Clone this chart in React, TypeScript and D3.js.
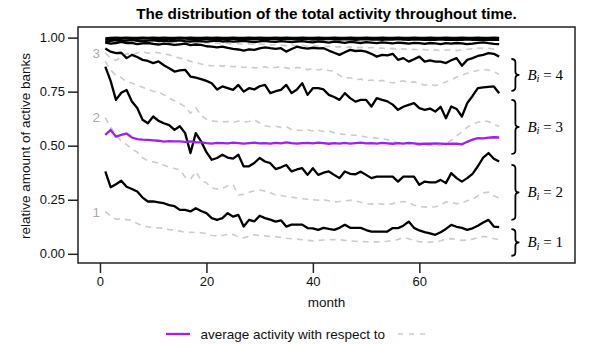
import { useRef, useEffect } from 'react';
import * as d3 from 'd3';

// months 1..75 on the x axis
const months = d3.range(1, 76);

const xTicks = [0, 20, 40, 60];
const yTicks = [0, 0.25, 0.5, 0.75, 1];

// black lines (solid)
const k1 = [0.996, 0.999, 1.0, 0.999, 1.0, 0.999, 0.999, 1.0, 0.999, 1.0,
  0.999, 1.0, 0.999, 0.999, 1.0, 0.999, 1.0, 0.999, 0.999, 1.0,
  0.999, 1.0, 0.999, 0.999, 1.0, 0.999, 0.999, 1.0, 0.999, 1.0,
  0.999, 0.999, 1.0, 0.999, 1.0, 0.999, 0.999, 1.0, 0.999, 0.999,
  1.0, 0.999, 0.999, 1.0, 0.999, 0.999, 1.0, 0.999, 0.999, 1.0,
  0.999, 0.999, 1.0, 0.999, 0.999, 1.0, 0.999, 0.999, 1.0, 0.999,
  0.999, 1.0, 0.999, 0.999, 1.0, 0.999, 0.999, 1.0, 0.999, 0.999,
  1.0, 0.999, 0.999, 1.0, 0.999];
const k2 = [0.988, 0.993, 0.995, 0.994, 0.996, 0.995, 0.994, 0.995, 0.996, 0.994,
  0.995, 0.993, 0.995, 0.994, 0.996, 0.995, 0.993, 0.994, 0.995, 0.994,
  0.993, 0.995, 0.994, 0.992, 0.994, 0.995, 0.993, 0.994, 0.992, 0.994,
  0.993, 0.995, 0.993, 0.992, 0.994, 0.993, 0.992, 0.994, 0.993, 0.991,
  0.993, 0.992, 0.994, 0.992, 0.991, 0.993, 0.992, 0.990, 0.992, 0.993,
  0.991, 0.992, 0.990, 0.992, 0.991, 0.993, 0.991, 0.990, 0.992, 0.991,
  0.989, 0.991, 0.990, 0.992, 0.990, 0.989, 0.991, 0.990, 0.992, 0.990,
  0.989, 0.991, 0.990, 0.989, 0.990];
const k3 = [0.978, 0.985, 0.988, 0.984, 0.986, 0.989, 0.985, 0.983, 0.986, 0.988,
  0.984, 0.986, 0.983, 0.985, 0.987, 0.984, 0.982, 0.985, 0.983, 0.981,
  0.984, 0.986, 0.982, 0.984, 0.981, 0.983, 0.985, 0.982, 0.979, 0.983,
  0.985, 0.982, 0.980, 0.984, 0.981, 0.979, 0.982, 0.984, 0.980, 0.978,
  0.982, 0.980, 0.977, 0.981, 0.979, 0.976, 0.980, 0.978, 0.975, 0.979,
  0.977, 0.974, 0.978, 0.976, 0.973, 0.977, 0.975, 0.972, 0.976, 0.974,
  0.971, 0.975, 0.973, 0.970, 0.974, 0.972, 0.975, 0.973, 0.970, 0.972,
  0.976, 0.978, 0.974, 0.971, 0.970];
const lineA = [0.977, 0.972, 0.975, 0.980, 0.974, 0.976, 0.970, 0.973, 0.975, 0.971,
  0.968, 0.972, 0.970, 0.966, 0.969, 0.972, 0.965, 0.968, 0.966, 0.960,
  0.958, 0.955, 0.958, 0.952, 0.948, 0.945, 0.940, 0.946, 0.943, 0.950,
  0.955, 0.951, 0.948, 0.951, 0.935, 0.947, 0.958, 0.952, 0.949, 0.953,
  0.950, 0.951, 0.940, 0.930, 0.920, 0.932, 0.943, 0.938, 0.940, 0.935,
  0.925, 0.912, 0.920, 0.918, 0.925, 0.897, 0.905, 0.889, 0.900, 0.912,
  0.889, 0.895, 0.889, 0.889, 0.882, 0.895, 0.905, 0.870, 0.897, 0.905,
  0.915, 0.920, 0.928, 0.925, 0.912];
const lineB = [0.950, 0.935, 0.928, 0.930, 0.905, 0.920, 0.910, 0.897, 0.892, 0.882,
  0.890, 0.872, 0.858, 0.843, 0.848, 0.851, 0.820, 0.815, 0.808, 0.800,
  0.789, 0.760, 0.774, 0.766, 0.758, 0.781, 0.750, 0.766, 0.760, 0.775,
  0.781, 0.743, 0.752, 0.758, 0.781, 0.743, 0.760, 0.789, 0.735, 0.766,
  0.766, 0.760, 0.735, 0.725, 0.712, 0.743, 0.720, 0.704, 0.712, 0.712,
  0.681, 0.720, 0.712, 0.705, 0.690, 0.666, 0.680, 0.689, 0.697, 0.674,
  0.666, 0.672, 0.658, 0.680, 0.627, 0.681, 0.670, 0.635, 0.697, 0.730,
  0.766, 0.770, 0.772, 0.774, 0.743];
const lineC = [0.866, 0.800, 0.712, 0.745, 0.758, 0.704, 0.674, 0.620, 0.604, 0.635,
  0.615, 0.604, 0.595, 0.573, 0.590, 0.558, 0.466, 0.558, 0.520, 0.470,
  0.435, 0.443, 0.458, 0.445, 0.440, 0.458, 0.404, 0.405, 0.420, 0.443,
  0.427, 0.419, 0.392, 0.400, 0.411, 0.381, 0.390, 0.396, 0.365, 0.396,
  0.365, 0.375, 0.381, 0.365, 0.350, 0.381, 0.370, 0.368, 0.380, 0.365,
  0.350, 0.357, 0.357, 0.357, 0.357, 0.334, 0.357, 0.357, 0.357, 0.319,
  0.334, 0.330, 0.330, 0.342, 0.327, 0.373, 0.350, 0.334, 0.350, 0.370,
  0.405, 0.445, 0.466, 0.440, 0.427];
const lineD = [0.381, 0.308, 0.322, 0.338, 0.310, 0.300, 0.288, 0.260, 0.242, 0.242,
  0.238, 0.234, 0.225, 0.220, 0.203, 0.203, 0.196, 0.211, 0.198, 0.188,
  0.165, 0.157, 0.165, 0.188, 0.172, 0.180, 0.126, 0.157, 0.150, 0.176,
  0.165, 0.158, 0.149, 0.155, 0.126, 0.135, 0.135, 0.135, 0.119, 0.118,
  0.111, 0.120, 0.115, 0.111, 0.120, 0.134, 0.120, 0.120, 0.120, 0.110,
  0.103, 0.103, 0.103, 0.103, 0.119, 0.119, 0.130, 0.149, 0.120, 0.108,
  0.100, 0.095, 0.088, 0.100, 0.115, 0.134, 0.125, 0.120, 0.111, 0.118,
  0.130, 0.145, 0.157, 0.126, 0.123];

// average activity (purple)
const average = [0.550, 0.573, 0.542, 0.550, 0.556, 0.538, 0.530, 0.528, 0.527, 0.525,
  0.523, 0.519, 0.521, 0.520, 0.520, 0.518, 0.520, 0.516, 0.515, 0.512,
  0.510, 0.513, 0.512, 0.511, 0.514, 0.512, 0.510, 0.512, 0.514, 0.511,
  0.512, 0.510, 0.513, 0.511, 0.515, 0.512, 0.510, 0.512, 0.513, 0.511,
  0.514, 0.512, 0.509, 0.512, 0.510, 0.513, 0.510, 0.512, 0.514, 0.511,
  0.512, 0.510, 0.513, 0.511, 0.509, 0.512, 0.510, 0.513, 0.511, 0.508,
  0.510, 0.509, 0.511, 0.510, 0.508, 0.510, 0.509, 0.506, 0.518, 0.528,
  0.535, 0.534, 0.537, 0.539, 0.538];

// grey dashed lines
const g4 = [0.988, 0.985, 0.983, 0.986, 0.984, 0.982, 0.985, 0.983, 0.981, 0.982,
  0.980, 0.982, 0.979, 0.980, 0.978, 0.979, 0.976, 0.978, 0.975, 0.976,
  0.974, 0.975, 0.972, 0.973, 0.970, 0.972, 0.969, 0.971, 0.968, 0.970,
  0.968, 0.966, 0.968, 0.965, 0.963, 0.966, 0.962, 0.964, 0.960, 0.962,
  0.960, 0.958, 0.960, 0.956, 0.958, 0.955, 0.957, 0.953, 0.955, 0.952,
  0.954, 0.950, 0.952, 0.948, 0.950, 0.946, 0.948, 0.944, 0.946, 0.943,
  0.945, 0.941, 0.943, 0.940, 0.942, 0.944, 0.940, 0.943, 0.946, 0.948,
  0.950, 0.952, 0.950, 0.948, 0.946];
const g3 = [0.929, 0.905, 0.895, 0.910, 0.925, 0.920, 0.930, 0.935, 0.928, 0.932,
  0.930, 0.925, 0.920, 0.912, 0.905, 0.900, 0.890, 0.885, 0.878, 0.872,
  0.870, 0.872, 0.868, 0.870, 0.865, 0.868, 0.862, 0.866, 0.860, 0.862,
  0.865, 0.858, 0.862, 0.866, 0.860, 0.855, 0.862, 0.858, 0.852, 0.856,
  0.850, 0.855, 0.848, 0.845, 0.825, 0.812, 0.815, 0.805, 0.808, 0.800,
  0.804, 0.798, 0.802, 0.795, 0.790, 0.796, 0.800, 0.792, 0.795, 0.788,
  0.780, 0.784, 0.778, 0.786, 0.795, 0.805, 0.818, 0.826, 0.835, 0.842,
  0.848, 0.852, 0.850, 0.842, 0.830];
const gBC = [0.890, 0.850, 0.825, 0.815, 0.795, 0.790, 0.780, 0.770, 0.760, 0.752,
  0.748, 0.735, 0.720, 0.708, 0.695, 0.680, 0.650, 0.675, 0.640, 0.622,
  0.615, 0.612, 0.610, 0.612, 0.608, 0.614, 0.610, 0.612, 0.620, 0.605,
  0.592, 0.588, 0.590, 0.585, 0.588, 0.575, 0.572, 0.570, 0.574, 0.568,
  0.572, 0.566, 0.568, 0.560, 0.555, 0.552, 0.550, 0.548, 0.545, 0.540,
  0.538, 0.535, 0.532, 0.528, 0.520, 0.512, 0.515, 0.508, 0.505, 0.502,
  0.500, 0.504, 0.500, 0.502, 0.510, 0.525, 0.545, 0.565, 0.585, 0.600,
  0.608, 0.615, 0.612, 0.598, 0.590];
const g2 = [0.630, 0.585, 0.550, 0.520, 0.505, 0.485, 0.470, 0.445, 0.430, 0.425,
  0.420, 0.410, 0.400, 0.395, 0.388, 0.355, 0.345, 0.380, 0.340, 0.328,
  0.305, 0.300, 0.302, 0.315, 0.320, 0.272, 0.275, 0.285, 0.292, 0.295,
  0.290, 0.282, 0.272, 0.270, 0.265, 0.262, 0.258, 0.255, 0.252, 0.250,
  0.248, 0.250, 0.245, 0.240, 0.242, 0.245, 0.248, 0.245, 0.238, 0.232,
  0.230, 0.232, 0.230, 0.228, 0.232, 0.238, 0.242, 0.238, 0.225, 0.218,
  0.217, 0.215, 0.218, 0.225, 0.240, 0.238, 0.232, 0.235, 0.245, 0.252,
  0.268, 0.282, 0.285, 0.268, 0.258];
const g1 = [0.195, 0.175, 0.160, 0.162, 0.158, 0.155, 0.140, 0.130, 0.125, 0.120,
  0.120, 0.118, 0.112, 0.110, 0.105, 0.100, 0.100, 0.098, 0.097, 0.095,
  0.085, 0.083, 0.085, 0.090, 0.090, 0.078, 0.074, 0.082, 0.088, 0.085,
  0.083, 0.080, 0.079, 0.076, 0.072, 0.070, 0.068, 0.065, 0.062, 0.060,
  0.062, 0.064, 0.065, 0.066, 0.065, 0.062, 0.060, 0.058, 0.057, 0.056,
  0.055, 0.055, 0.056, 0.058, 0.062, 0.066, 0.076, 0.070, 0.062, 0.056,
  0.055, 0.054, 0.055, 0.060, 0.068, 0.070, 0.066, 0.062, 0.064, 0.068,
  0.075, 0.080, 0.078, 0.070, 0.065];

const blackSeries = [k1, k2, k3, lineA, lineB, lineC, lineD];
const greySeries = [g4, g3, gBC, g2, g1];
const greyLabels = [
  { text: '3', series: g3 },
  { text: '2', series: g2 },
  { text: '1', series: g1 },
];

// braces on the right: group value and its y range
const braceGroups = ['4', '3', '2', '1'];
const braceTop = [0.901, 0.712, 0.411, 0.114];
const braceBottom = [0.754, 0.462, 0.157, -0.009];

const W = 591;
const H = 345;
const FONT = '"Liberation Sans", Arial, Helvetica, sans-serif';

export default function App() {
  const svgRef = useRef<SVGSVGElement>(null);

  useEffect(() => {
    const svg = d3.select(svgRef.current);
    svg.selectAll('*').remove();

    const x = d3.scaleLinear().domain([-4.13, 89.25]).range([78, 575]);
    const y = d3.scaleLinear().domain([-0.0425, 1.049]).range([263, 27]);

    const line = d3.line<number>()
      .x((d, i) => x(months[i]))
      .y(d => y(d));

    // grey dashed lines
    svg.append('g')
      .selectAll('path')
      .data(greySeries)
      .join('path')
      .attr('d', d => line(d))
      .attr('fill', 'none')
      .attr('stroke', '#cccccc')
      .attr('stroke-width', 1.6)
      .attr('stroke-dasharray', '6,5');

    // black lines
    svg.append('g')
      .selectAll('path')
      .data(blackSeries)
      .join('path')
      .attr('d', d => line(d))
      .attr('fill', 'none')
      .attr('stroke', '#000')
      .attr('stroke-width', 2.3)
      .attr('stroke-linejoin', 'round');

    // average
    svg.append('path')
      .attr('d', line(average))
      .attr('fill', 'none')
      .attr('stroke', '#a020f0')
      .attr('stroke-width', 2.3);

    // grey group labels at line starts
    svg.append('g')
      .selectAll('text')
      .data(greyLabels)
      .join('text')
      .attr('x', x(-0.7))
      .attr('y', d => y(d.series[0]))
      .attr('dy', '0.36em')
      .attr('text-anchor', 'middle')
      .attr('font-family', FONT)
      .attr('font-size', 13.5)
      .attr('fill', '#aaaaaa')
      .text(d => d.text);

    // braces
    const bx = x(77.3);
    const bw = 8;
    braceGroups.forEach((g, i) => {
      const y1 = y(braceTop[i]);
      const y2 = y(braceBottom[i]);
      const ym = (y1 + y2) / 2;
      const r = 3.5;
      const s = bx + bw / 2;
      const p = d3.path();
      p.moveTo(bx, y1);
      p.quadraticCurveTo(s, y1, s, y1 + r);
      p.lineTo(s, ym - r);
      p.quadraticCurveTo(s, ym, bx + bw, ym);
      p.quadraticCurveTo(s, ym, s, ym + r);
      p.lineTo(s, y2 - r);
      p.quadraticCurveTo(s, y2, bx, y2);
      svg.append('path')
        .attr('d', p.toString())
        .attr('fill', 'none')
        .attr('stroke', '#000')
        .attr('stroke-width', 1.8);

      const t = svg.append('text')
        .attr('x', bx + 16)
        .attr('y', ym + 5)
        .attr('font-family', '"Liberation Serif", "Times New Roman", serif')
        .attr('font-size', 15)
        .attr('fill', '#000');
      t.append('tspan').attr('font-style', 'italic').text('B');
      t.append('tspan').attr('font-style', 'italic').attr('font-size', 10.5).attr('dy', 2.5).text('i');
      t.append('tspan').attr('dy', -2.5).text(' = ' + g);
    });

    // box
    svg.append('rect')
      .attr('x', 78)
      .attr('y', 27)
      .attr('width', 575 - 78)
      .attr('height', 263 - 27)
      .attr('fill', 'none')
      .attr('stroke', '#222')
      .attr('stroke-width', 1.5);

    // axes
    const yAxis = svg.append('g')
      .attr('transform', 'translate(78,0)')
      .call(d3.axisLeft(y).tickValues(yTicks).tickFormat(d3.format('.2f')).tickSize(10).tickSizeOuter(0).tickPadding(3));
    const xAxis = svg.append('g')
      .attr('transform', 'translate(0,263)')
      .call(d3.axisBottom(x).tickValues(xTicks).tickSize(10).tickSizeOuter(0).tickPadding(4));
    [xAxis, yAxis].forEach(a => {
      a.select('.domain').remove();
      a.selectAll('line').attr('stroke', '#222').attr('stroke-width', 1.5);
      a.selectAll('text').attr('font-family', FONT).attr('font-size', 13).attr('fill', '#111');
    });

    // title and axis labels
    svg.append('text')
      .attr('x', 326.5)
      .attr('y', 18.5)
      .attr('text-anchor', 'middle')
      .attr('font-family', FONT)
      .attr('font-weight', 'bold')
      .attr('font-size', 15.3)
      .attr('fill', '#000')
      .text('The distribution of the total activity throughout time.');

    svg.append('text')
      .attr('x', 326.5)
      .attr('y', 307)
      .attr('text-anchor', 'middle')
      .attr('font-family', FONT)
      .attr('font-size', 13.5)
      .attr('fill', '#111')
      .text('month');

    svg.append('text')
      .attr('transform', 'translate(30,146) rotate(-90)')
      .attr('text-anchor', 'middle')
      .attr('font-family', FONT)
      .attr('font-size', 13.5)
      .attr('fill', '#111')
      .text('relative amount of active banks');

    // legend
    const lg = svg.append('g');
    lg.append('line')
      .attr('x1', 166).attr('x2', 190).attr('y1', 334).attr('y2', 334)
      .attr('stroke', '#a020f0').attr('stroke-width', 2.3);
    lg.append('text')
      .attr('x', 200.5)
      .attr('y', 338.5)
      .attr('font-family', FONT)
      .attr('font-size', 13.5)
      .attr('fill', '#111')
      .text('average activity with respect to');
    lg.append('line')
      .attr('x1', 398).attr('x2', 426).attr('y1', 334).attr('y2', 334)
      .attr('stroke', '#cccccc').attr('stroke-width', 1.6)
      .attr('stroke-dasharray', '5,6');
  }, []);

  return (
    <svg
      ref={svgRef}
      width={W}
      height={H}
      style={{ position: 'absolute', left: 0, top: 0, background: '#fff' }}
    />
  );
}
